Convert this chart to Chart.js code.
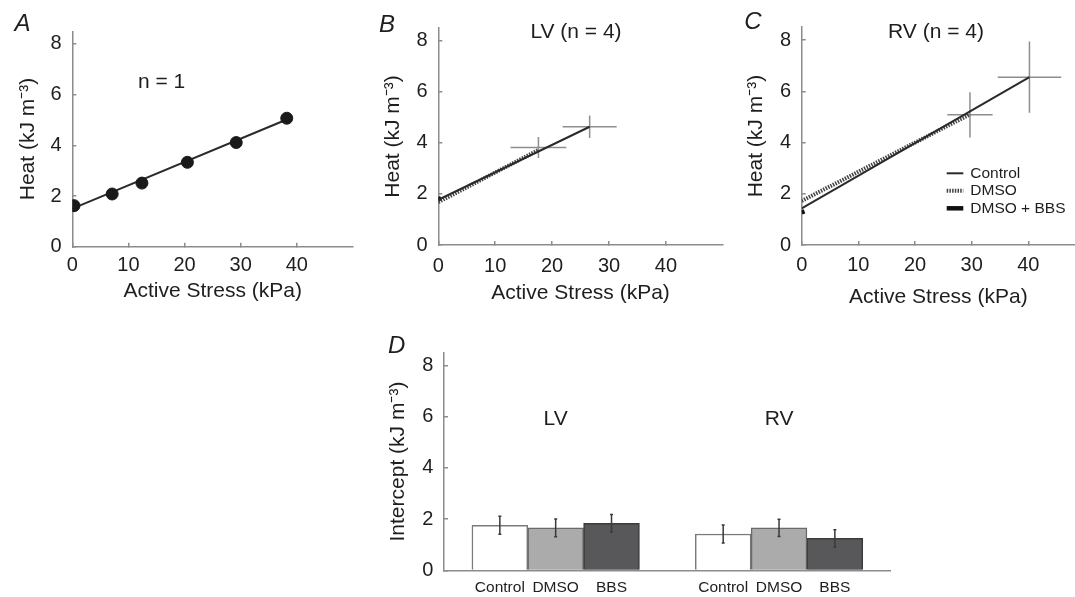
<!DOCTYPE html>
<html>
<head>
<meta charset="utf-8">
<script src="https://cdn.jsdelivr.net/npm/chart.js@4.4.0/dist/chart.umd.min.js"></script>
<style>
  html, body { margin: 0; padding: 0; background: #fff; }
  body { width: 1075px; height: 597px; position: relative; overflow: hidden; }
  canvas { position: absolute; }
</style>
</head>
<body>
<canvas id="panelA" width="360" height="320" style="left:0;top:0"></canvas>
<canvas id="panelB" width="370" height="320" style="left:360px;top:0"></canvas>
<canvas id="panelC" width="355" height="320" style="left:720px;top:0"></canvas>
<canvas id="panelD" width="540" height="277" style="left:360px;top:320px"></canvas>
<script>
// ---- data ----
const stressTicks = [0, 10, 20, 30, 40];
const heatTicks = [0, 2, 4, 6, 8];

// A: single preparation
const stressA = [0.3, 7.1, 12.4, 20.5, 29.2, 38.2];
const heatA = [1.62, 2.08, 2.51, 3.33, 4.11, 5.07];
const fitStressA = [0, 38.2];
const fitHeatA = [1.50, 5.02];

// B / C: regression lines per condition (Control, DMSO, DMSO + BBS)
const lineNames = ['Control', 'DMSO', 'DMSO + BBS'];
const lvLineStress = [[0, 26.6], [0, 17.6], [0, 0.5]];
const lvLineHeat = [[1.77, 4.63], [1.68, 3.72], [1.78, 1.84]];
const rvLineStress = [[0, 40.2], [0, 29.7], [0, 0.5]];
const rvLineHeat = [[1.43, 6.55], [1.72, 5.10], [1.27, 1.31]];

// mean +/- SD crosses (Control, DMSO)
const lvMeanStress = [26.6, 17.6];
const lvMeanHeat = [4.63, 3.82];
const lvSdStress = [4.75, 4.9];
const lvSdHeat = [0.44, 0.41];
const rvMeanStress = [40.2, 29.7];
const rvMeanHeat = [6.55, 5.08];
const rvSdStress = [5.6, 4.0];
const rvSdHeat = [1.39, 0.88];

// D: intercepts
const barLabels = ['', 'Control', 'DMSO', 'BBS', '', 'Control', 'DMSO', 'BBS', ''];
const intercepts = [null, 1.76, 1.66, 1.84, null, 1.42, 1.66, 1.25, null];
const interceptErr = [null, 0.35, 0.35, 0.34, null, 0.35, 0.34, 0.34, null];
const interceptTicks = [0, 2, 4, 6, 8];

// ---- styling ----
const FONT = "'Liberation Sans', Arial, Helvetica, sans-serif";
const INK = '#1e1e1e';
const AXIS = '#8c8c8c';
const groupFill = { Control: '#ffffff', DMSO: '#ababab', BBS: '#58585a' };
const groupEdge = { Control: '#7a7a7a', DMSO: '#6a6a6a', BBS: '#3c3c3c' };
const lineStyles = [
  { borderColor: '#2a2a2a', borderWidth: 2 },
  { borderColor: '#444444', borderWidth: 4, borderDash: [1.5, 1.2] },
  { borderColor: '#111111', borderWidth: 4.5 }
];

// text, legend and error bars drawn on top, placed through the chart's scales
function notes(cfg) {
  return {
    id: 'notes',
    afterDraw(chart) {
      const ctx = chart.ctx;
      const sx = chart.scales.x, sy = chart.scales.y;
      ctx.save();
      if (cfg.errors) {
        ctx.strokeStyle = '#3a3a3a';
        ctx.lineWidth = 1.5;
        cfg.errors.values.forEach((v, i) => {
          const e = cfg.errors.err[i];
          if (v == null || e == null) return;
          const x = sx.getPixelForValue(i);
          const y1 = sy.getPixelForValue(v + e), y2 = sy.getPixelForValue(v - e);
          ctx.beginPath();
          ctx.moveTo(x, y1); ctx.lineTo(x, y2);
          ctx.moveTo(x - 1.5, y1); ctx.lineTo(x + 1.5, y1);
          ctx.moveTo(x - 1.5, y2); ctx.lineTo(x + 1.5, y2);
          ctx.stroke();
        });
      }
      ctx.fillStyle = INK;
      ctx.textBaseline = 'middle';
      (cfg.items || []).forEach(it => {
        let x = it.x, y = it.y;
        if (it.data) { x = sx.getPixelForValue(it.x); y = sy.getPixelForValue(it.y); }
        ctx.font = it.font;
        ctx.textAlign = it.align || 'center';
        ctx.fillText(it.text, x, y);
      });
      if (cfg.legend) {
        const L = cfg.legend;
        let row = 0;
        chart.data.datasets.forEach(ds => {
          if (!ds.label) return;
          const y = L.y + row * L.gap;
          ctx.strokeStyle = ds.borderColor;
          ctx.lineWidth = ds.borderWidth;
          ctx.setLineDash(ds.borderDash || []);
          ctx.beginPath();
          ctx.moveTo(L.x, y); ctx.lineTo(L.x + L.len, y);
          ctx.stroke();
          ctx.setLineDash([]);
          ctx.font = L.font;
          ctx.textAlign = 'left';
          ctx.fillText(ds.label, L.x + L.len + 7, y);
          row++;
        });
      }
      ctx.restore();
    }
  };
}

function axisGrid() {
  return { drawOnChartArea: false, tickLength: -4, color: AXIS, lineWidth: 1.5 };
}

function stressScales(p) {
  return {
    x: {
      type: 'linear', min: 0, max: p.xMax,
      afterBuildTicks: s => { s.ticks = stressTicks.map(v => ({ value: v })); },
      afterFit: s => { s.height = p.xh; },
      ticks: { color: INK, font: { family: FONT, size: 20 }, padding: p.xTickPad, maxRotation: 0 },
      grid: axisGrid(),
      border: { color: AXIS, width: 1.5 },
      title: { display: true, text: 'Active Stress (kPa)', color: INK, font: { family: FONT, size: 21 }, padding: { top: 0, bottom: p.xTitlePad } }
    },
    y: {
      type: 'linear', min: 0, max: 8.5,
      afterBuildTicks: s => { s.ticks = heatTicks.map(v => ({ value: v })); },
      afterFit: s => { s.width = p.yw; },
      ticks: { color: INK, font: { family: FONT, size: 20 }, padding: 14.6 },
      grid: axisGrid(),
      border: { color: AXIS, width: 1.5 },
      title: { display: true, text: 'Heat (kJ m⁻³)', color: INK, font: { family: FONT, size: 21 }, padding: { top: p.yTitlePad, bottom: 0 } }
    }
  };
}

const baseOpts = {
  responsive: false,
  animation: false,
  events: [],
  plugins: { legend: { display: false }, tooltip: { enabled: false } }
};

function pts(xs, ys) {
  return xs.map((x, i) => ({ x: x, y: ys[i] }));
}

function heartSets(lx, ly, mx, my, sx, sy) {
  const sets = lineNames.map((name, i) => Object.assign({
    label: name,
    data: pts(lx[i], ly[i]),
    showLine: true,
    pointRadius: 0
  }, lineStyles[i]));
  mx.forEach((x, i) => {
    const cross = { showLine: true, pointRadius: 0, borderColor: '#8e8e8e', borderWidth: 1.5 };
    sets.push(Object.assign({ data: pts([x - sx[i], x + sx[i]], [my[i], my[i]]) }, cross));
    sets.push(Object.assign({ data: pts([x, x], [my[i] - sy[i], my[i] + sy[i]]) }, cross));
  });
  return sets;
}

const LETTER = "italic 24px " + FONT;
const NOTE = "21px " + FONT;

// ---- A ----
new Chart(document.getElementById('panelA'), {
  type: 'scatter',
  data: {
    datasets: [
      { data: pts(stressA, heatA), pointRadius: 6, backgroundColor: '#1a1a1a', borderColor: '#1a1a1a', showLine: false },
      { data: pts(fitStressA, fitHeatA), showLine: true, pointRadius: 0, borderColor: '#2a2a2a', borderWidth: 2 }
    ]
  },
  options: Object.assign({}, baseOpts, {
    layout: { padding: { left: 0, top: 31.3, right: 2.7, bottom: 0 } },
    scales: stressScales({ xMax: 50, xh: 73.3, yw: 72.3, xTickPad: 10.5, xTitlePad: 16.4, yTitlePad: 15.4 })
  }),
  plugins: [notes({ items: [
    { text: 'A', x: 22.5, y: 24.5, font: LETTER },
    { text: 'n = 1', x: 15.9, y: 6.5, data: true, font: NOTE }
  ] })]
});

// ---- B ----
new Chart(document.getElementById('panelB'), {
  type: 'scatter',
  data: { datasets: heartSets(lvLineStress, lvLineHeat, lvMeanStress, lvMeanHeat, lvSdStress, lvSdHeat) },
  options: Object.assign({}, baseOpts, {
    layout: { padding: { left: 0, top: 27.9, right: 7.2, bottom: 0 } },
    scales: stressScales({ xMax: 50, xh: 75, yw: 78.3, xTickPad: 13, xTitlePad: 14.4, yTitlePad: 20.2 })
  }),
  plugins: [notes({ items: [
    { text: 'B', x: 27, y: 25.8, font: LETTER },
    { text: 'LV (n = 4)', x: 24.2, y: 8.32, data: true, font: NOTE }
  ] })]
});

// ---- C ----
new Chart(document.getElementById('panelC'), {
  type: 'scatter',
  data: { datasets: heartSets(rvLineStress, rvLineHeat, rvMeanStress, rvMeanHeat, rvSdStress, rvSdHeat) },
  options: Object.assign({}, baseOpts, {
    layout: { padding: { left: 0, top: 27.2, right: 0, bottom: 0 } },
    scales: stressScales({ xMax: 48.24, xh: 75, yw: 81.7, xTickPad: 12.5, xTitlePad: 10, yTitlePad: 23.4 })
  }),
  plugins: [notes({
    items: [
      { text: 'C', x: 33, y: 22, font: LETTER },
      { text: 'RV (n = 4)', x: 23.7, y: 8.29, data: true, font: NOTE }
    ],
    legend: { x: 226.7, y: 173.3, gap: 17.5, len: 16.6, font: "15.5px " + FONT }
  })]
});

// ---- D ----
new Chart(document.getElementById('panelD'), {
  type: 'bar',
  data: {
    labels: barLabels,
    datasets: [{
      data: intercepts,
      backgroundColor: barLabels.map(l => groupFill[l] || '#fff'),
      borderColor: barLabels.map(l => groupEdge[l] || '#777'),
      borderWidth: 1.5,
      barPercentage: 1,
      categoryPercentage: 1
    }]
  },
  options: Object.assign({}, baseOpts, {
    layout: { padding: { left: 0, top: 32.7, right: 9.3, bottom: 0 } },
    scales: {
      x: {
        type: 'category', offset: false,
        afterFit: s => { s.height = 24.7; },
        grid: { display: false, drawTicks: false },
        border: { color: AXIS, width: 1.5 },
        ticks: { color: INK, font: { family: FONT, size: 15.5 }, padding: 8.2, autoSkip: false, maxRotation: 0 }
      },
      y: {
        type: 'linear', min: 0, max: 8.5,
        afterBuildTicks: s => { s.ticks = interceptTicks.map(v => ({ value: v })); },
        afterFit: s => { s.width = 84; },
        ticks: { color: INK, font: { family: FONT, size: 20 }, padding: 14.6 },
        grid: axisGrid(),
        border: { color: AXIS, width: 1.5 },
        title: { display: true, text: 'Intercept (kJ m⁻³)', color: INK, font: { family: FONT, size: 21 }, padding: { top: 25.2, bottom: 0 } }
      }
    }
  }),
  plugins: [notes({
    errors: { values: intercepts, err: interceptErr },
    items: [
      { text: 'D', x: 36.7, y: 26, font: LETTER },
      { text: 'LV', x: 2, y: 5.9, data: true, font: NOTE },
      { text: 'RV', x: 6, y: 5.9, data: true, font: NOTE }
    ]
  })]
});
</script>
</body>
</html>
